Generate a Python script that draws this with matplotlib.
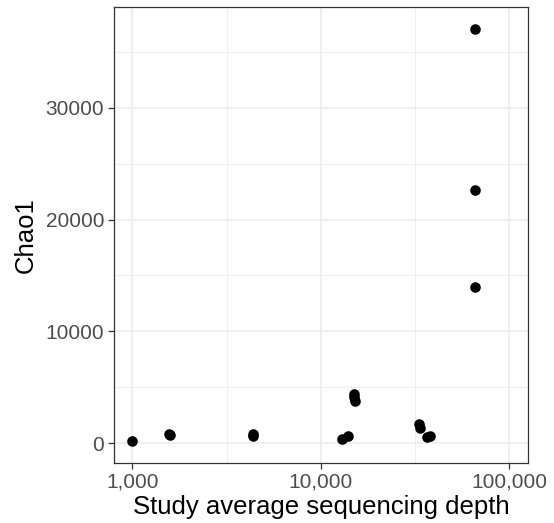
import matplotlib
matplotlib.use("Agg")
import matplotlib.pyplot as plt
from matplotlib.ticker import FixedLocator, FuncFormatter
import numpy as np

plt.rcParams["font.family"] = ["Liberation Sans", "DejaVu Sans"]

# study average sequencing depth vs Chao1 richness
depth = [1000, 1575, 1585, 4370, 4380, 12900, 13900, 15000, 15050, 15100,
         33000, 33600, 36500, 38000, 65800, 65800, 65800]
chao1 = [230, 800, 700, 870, 640, 430, 610, 4450, 4100, 3750,
         1720, 1350, 560, 640, 37020, 22640, 13940]

x_ticks = [1000, 10000, 100000]
x_minor = [10 ** 3.5, 10 ** 4.5]
y_ticks = [0, 10000, 20000, 30000]
y_minor = [5000, 15000, 25000, 35000]

fig = plt.figure(figsize=(5.54, 5.23), dpi=100)
ax = fig.add_axes([0.2058, 0.1147, 0.953 - 0.2058, 0.9866 - 0.1147])

ax.scatter(depth, chao1, s=58, color="black", linewidths=0, zorder=3)

ax.set_xscale("log")
ax.set_xlim(10 ** 2.903, 10 ** 5.099)
ax.set_ylim(-1760, 38990)

ax.xaxis.set_major_locator(FixedLocator(x_ticks))
ax.xaxis.set_minor_locator(FixedLocator(x_minor))
ax.yaxis.set_major_locator(FixedLocator(y_ticks))
ax.yaxis.set_minor_locator(FixedLocator(y_minor))
ax.xaxis.set_major_formatter(FuncFormatter(lambda v, p: f"{int(round(v)):,}"))
ax.xaxis.set_minor_formatter(FuncFormatter(lambda v, p: ""))
ax.yaxis.set_major_formatter(FuncFormatter(lambda v, p: f"{int(v)}"))

ax.grid(which="major", color="#EBEBEB", linewidth=1.1, zorder=0)
ax.grid(which="minor", color="#EBEBEB", linewidth=0.55, zorder=0)
ax.set_axisbelow(True)

for s in ax.spines.values():
    s.set_color("#333333")
    s.set_linewidth(0.9)

ax.tick_params(which="major", length=4, width=0.9, color="#333333",
               labelsize=15, labelcolor="#4D4D4D", pad=3)
ax.tick_params(which="minor", length=0)

ax.set_xlabel("Study average sequencing depth", fontsize=18.5, labelpad=2)
ax.set_ylabel("Chao1", fontsize=18.5, labelpad=6)

fig.savefig("out.png", dpi=100)
